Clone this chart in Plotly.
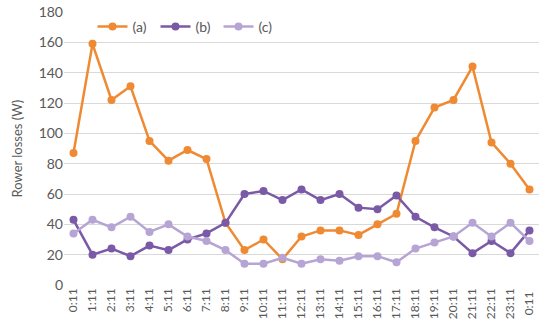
import plotly.graph_objects as go

categories = ["0:11", "1:11", "2:11", "3:11", "4:11", "5:11", "6:11", "7:11", "8:11", "9:11",
              "10:11", "11:11", "12:11", "13:11", "14:11", "15:11", "16:11", "17:11", "18:11",
              "19:11", "20:11", "21:11", "22:11", "23:11", "0:11 "]
series_a = [87, 159, 122, 131, 95, 82, 89, 83, 41, 23, 30, 17, 32, 36, 36, 33, 40, 47, 95,
            117, 122, 144, 94, 80, 63]
series_b = [43, 20, 24, 19, 26, 23, 30, 34, 41, 60, 62, 56, 63, 56, 60, 51, 50, 59, 45,
            38, 32, 21, 29, 21, 36]
series_c = [34, 43, 38, 45, 35, 40, 32, 29, 23, 14, 14, 18, 14, 17, 16, 19, 19, 15, 24,
            28, 32, 41, 32, 41, 29]
y_ticks = [0, 20, 40, 60, 80, 100, 120, 140, 160, 180]

font_family = "Lato, 'Open Sans', sans-serif"
gray = "#595959"

fig = go.Figure()
for name, vals, color in [("(a)", series_a, "#EF8A33"),
                          ("(b)", series_b, "#7A5AA7"),
                          ("(c)", series_c, "#B6A5D4")]:
    fig.add_trace(go.Scatter(
        x=categories, y=vals, name=name, mode="lines+markers",
        line=dict(color=color, width=2.5),
        marker=dict(color=color, size=8),
    ))

fig.update_layout(
    width=550, height=334,
    margin=dict(l=64, r=11, t=12, b=49, autoexpand=False),
    paper_bgcolor="white", plot_bgcolor="white",
    font=dict(family=font_family, color=gray, size=12),
    showlegend=True,
    legend=dict(orientation="h", x=0.06, y=0.945, xanchor="left", yanchor="middle",
                font=dict(size=14, color=gray), bgcolor="rgba(0,0,0,0)",
                itemwidth=30, tracegroupgap=0, entrywidth=18, entrywidthmode="pixels"),
    xaxis=dict(type="category", categoryorder="array", categoryarray=categories,
               range=[-0.5, len(categories) - 0.5], automargin=False,
               tickangle=-90, showgrid=False, showline=False, ticks="",
               tickfont=dict(size=12, color=gray), zeroline=False),
    yaxis=dict(range=[0, 180], tickvals=y_ticks, showgrid=True, gridcolor="#D9D9D9",
               gridwidth=1, zeroline=False, showline=False, ticks="", automargin=False,
               tickfont=dict(size=14, color=gray)),
    annotations=[dict(text="Rower losses (W)", xref="paper", yref="paper",
                      x=-0.099, y=0.5, xanchor="center", yanchor="middle",
                      textangle=-90, showarrow=False,
                      font=dict(size=13, color=gray, family=font_family))],
)

fig.write_html("out.html", config={"displayModeBar": False},
               post_script="document.body.style.margin='0';document.body.style.overflow='hidden';")
